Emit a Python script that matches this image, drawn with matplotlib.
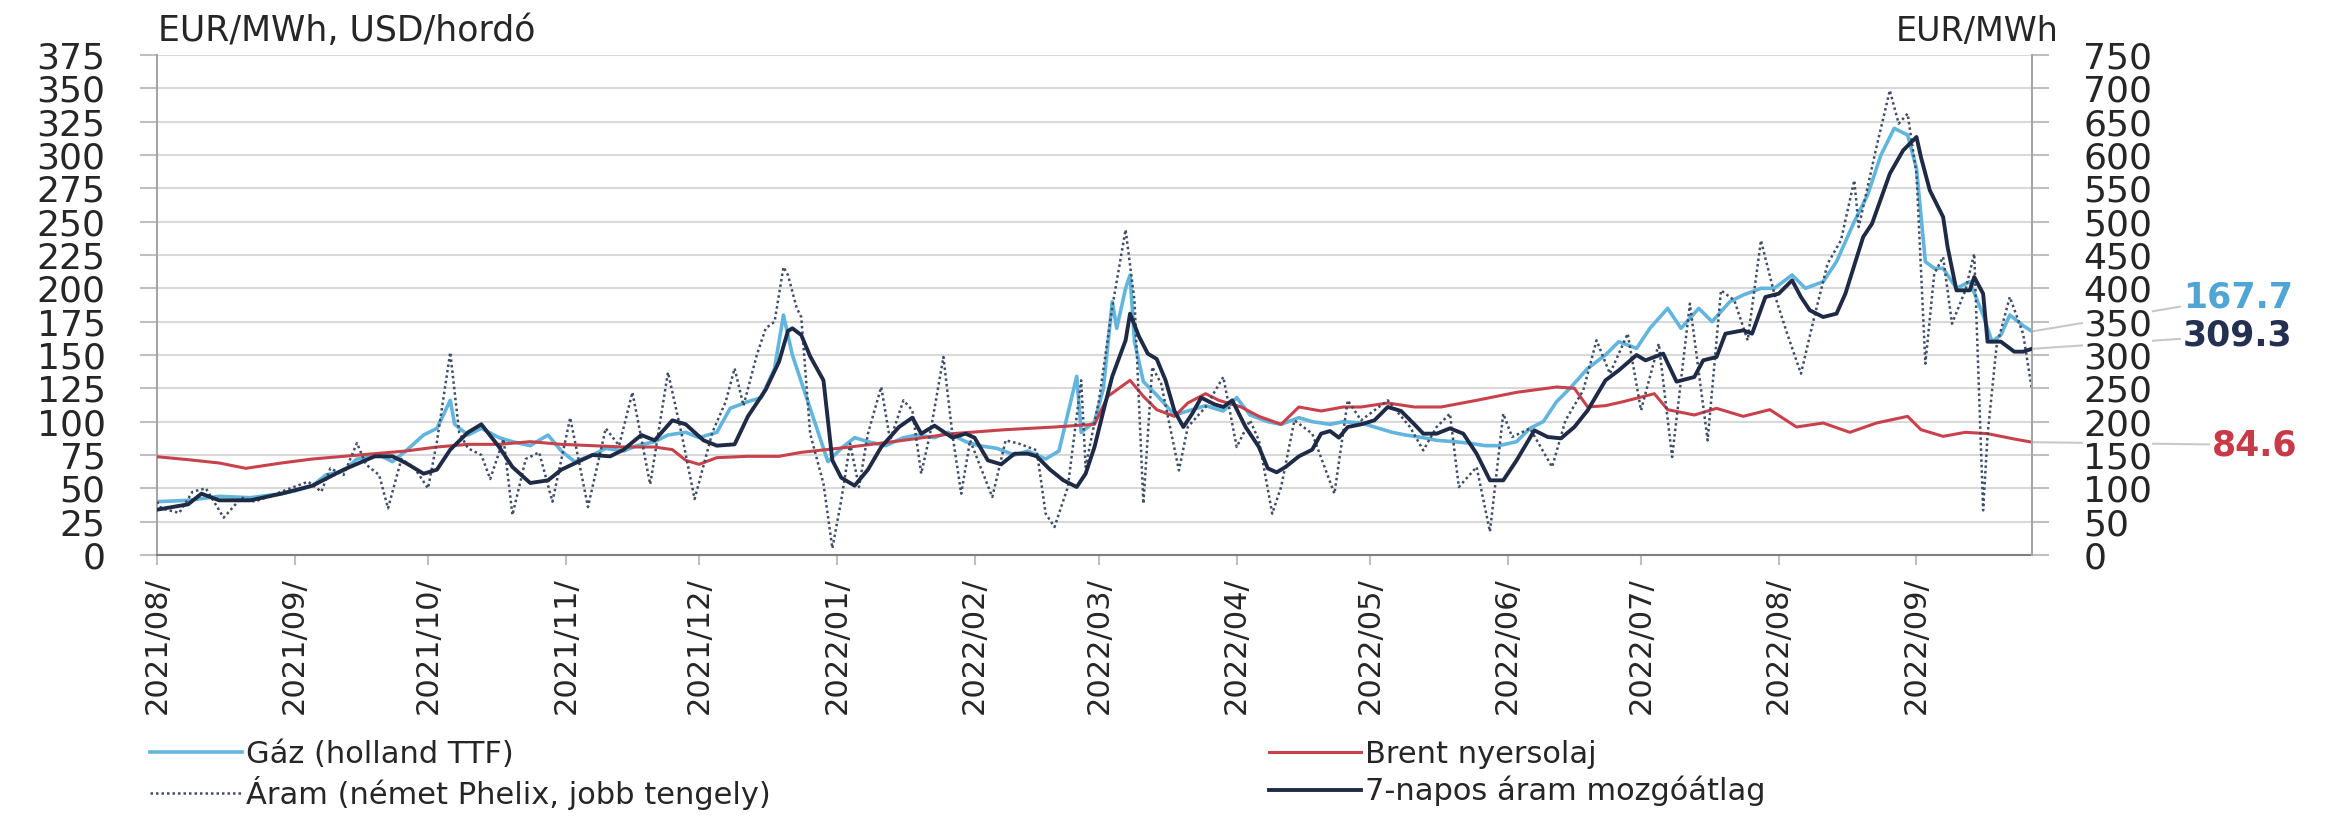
import numpy as np
import matplotlib.pyplot as plt
import matplotlib.dates as mdates
import pandas as pd

plt.rcParams['font.family'] = ['DejaVu Sans']

# napok 2021-08-01 ota
start = pd.Timestamp('2021-08-01')

# Gaz (holland TTF), EUR/MWh - bal tengely
gas_days = [0, 7, 14, 21, 28, 31, 35, 38, 42, 45, 50, 53, 56, 60, 63, 66, 67, 70, 73, 77, 80, 84, 88, 91, 94, 98,
            101, 105, 108, 112, 115, 119, 122, 126, 129, 133, 136, 139, 141, 143, 146, 149, 151, 154, 157, 160, 164,
            168, 171, 175, 178, 182, 185, 189, 193, 196, 200, 203, 207, 208, 211, 213, 215, 216, 218, 219, 220, 222,
            225, 229, 232, 236, 240, 243, 246, 250, 253, 257, 260, 264, 267, 271, 274, 278, 281, 285, 288, 292, 295,
            299, 302, 306, 309, 312, 315, 318, 322, 326, 329, 333, 336, 340, 343, 347, 350, 354, 357, 361, 364, 368,
            371, 375, 378, 382, 385, 388, 391, 394, 396, 398, 400, 402, 405, 408, 411, 413, 415, 417, 420, 422]
gas_vals = [40, 41, 44, 43, 46, 48, 52, 60, 63, 72, 75, 70, 78, 90, 95, 116, 98, 90, 95, 88, 85, 82, 90, 78, 70, 75,
            80, 78, 82, 85, 90, 92, 88, 92, 110, 115, 118, 140, 180, 150, 120, 90, 70, 80, 88, 85, 82,
            88, 90, 88, 92, 85, 82, 80, 75, 78, 72, 78, 134, 92, 100, 125, 190, 170, 200, 210, 160, 130,
            120, 105, 108, 112, 108, 118, 105, 100, 98, 103, 100, 98, 100, 99, 96, 92, 90, 88, 86, 85, 84,
            82, 82, 85, 95, 100, 115, 125, 140, 150, 160, 155, 170, 185, 170, 185, 175, 190, 195, 200, 200, 210,
            200, 205, 220, 250, 270, 300, 320, 315, 290, 220, 215, 215, 200, 205, 180, 160, 165, 180, 172, 167.7]

# Brent nyersolaj, USD/hordo - bal tengely
brent_days = [0, 7, 14, 20, 28, 35, 42, 49, 56, 63, 70, 77, 84, 91, 98, 105, 112, 116, 119, 122, 126, 133, 140, 145,
              156, 168, 179, 191, 202, 211, 214, 219, 222, 225, 229, 232, 236, 239, 244, 248, 253, 257, 262, 267,
              271, 277, 283, 289, 297, 306, 315, 319, 322, 326, 330, 337, 340, 346, 351, 357, 363, 369, 375, 381,
              387, 394, 397, 402, 407, 412, 418, 422]
brent_vals = [73.7, 71.5, 69, 65, 69, 72, 74, 76, 78, 81, 83, 83, 85, 83, 82, 81, 81, 79, 71, 68, 73, 74, 74, 77,
              81, 86, 91, 94, 96, 98, 119, 131, 119, 109, 104, 114, 121, 116, 111, 104, 98, 111, 108, 111,
              111, 114, 111, 111, 116, 122, 126, 125, 111, 112, 115, 121, 109, 105, 110, 104, 109, 96, 99, 92,
              99, 104, 94, 89, 92, 91, 87, 84.6]

# Aram (nemet Phelix), EUR/MWh - jobb tengely
power_days = [0, 1, 5, 8, 11, 15, 19, 22, 26, 30, 34, 37, 39, 42, 45, 47, 50, 52, 55, 58, 61, 63, 66, 68, 70, 73,
              75, 78, 80, 83, 86, 89, 93, 97, 101, 104, 107, 111, 115, 118, 121, 125, 128, 130, 132, 135, 137, 139,
              141, 142, 144, 145, 147, 150, 152, 154, 156, 158, 160, 163, 165, 168, 170, 172, 174, 177, 179, 181,
              183, 188, 191, 194, 198, 200, 202, 205, 208, 209, 212, 215, 218, 220, 222, 224, 226, 230, 232, 236,
              240, 243, 246, 248, 251, 253, 256, 260, 265, 268, 271, 277, 282, 285, 288, 291, 293, 297, 300, 303,
              305, 309, 314, 317, 321, 324, 327, 331, 334, 338, 341, 345, 349, 352, 355, 358, 361, 364, 367, 370,
              373, 376, 379, 382, 383, 387, 390, 392, 394, 396, 398, 400, 402, 404, 407, 409, 411, 412, 414, 417,
              420, 422]
power_vals = [80, 70, 63, 95, 100, 56, 86, 80, 90, 100, 110, 95, 130, 120, 168, 136, 120, 70, 144, 130, 100, 170,
              304, 184, 160, 150, 114, 174, 60, 144, 154, 80, 206, 72, 190, 164, 244, 106, 274, 184, 84, 184, 230,
              280, 224, 300, 340, 350, 432, 420, 370, 357, 182, 107, 10, 82, 167, 102, 182, 252, 172, 232, 217,
              122, 182, 297, 182, 92, 172, 87, 172, 167, 157, 62, 42, 102, 262, 132, 232, 372, 488, 382, 77, 282,
              257, 127, 192, 222, 267, 162, 202, 172, 62, 102, 202, 182, 92, 232, 202, 232, 192, 157, 192, 212,
              102, 132, 35, 212, 177, 190, 132, 202, 247, 322, 272, 332, 217, 317, 147, 377, 172, 397, 382, 322,
              472, 392, 330, 272, 357, 437, 472, 562, 492, 612, 697, 647, 662, 572, 287, 422, 447, 347, 397, 452,
              67, 180, 312, 387, 332, 247]

# 7-napos aram mozgoatlag, EUR/MWh - jobb tengely
ma_days = [0, 7, 10, 14, 21, 28, 35, 42, 49, 53, 56, 60, 63, 66, 70, 73, 77, 80, 84, 88, 91, 98, 102, 105, 109, 112,
           116, 119, 123, 126, 130, 133, 137, 140, 142, 143, 145, 147, 150, 152, 154, 157, 160, 163, 167, 170, 172,
           175, 179, 182, 184, 187, 190, 193, 196, 198, 201, 204, 207, 209, 211, 213, 215, 218, 219, 221, 223, 225,
           227, 229, 231, 233, 235, 238, 240, 242, 245, 248, 250, 252, 254, 257, 260, 262, 264, 266, 268, 271, 274,
           277, 280, 283, 285, 288, 291, 294, 297, 300, 303, 306, 310, 313, 316, 319, 322, 326, 329, 333, 335, 339,
           342, 346, 348, 351, 353, 357, 359, 362, 365, 368, 370, 372, 375, 378, 380, 384, 386, 390, 393, 396, 397,
           399, 402, 403, 405, 408, 409, 411, 412, 415, 418, 420, 422]
ma_vals = [68, 76, 92, 82, 82, 92, 104, 128, 148, 148, 138, 122, 128, 158, 184, 196, 162, 132, 108, 112, 128, 150,
           148, 158, 180, 172, 202, 196, 172, 164, 166, 208, 248, 290, 336, 340, 330, 298, 262, 142, 116, 104, 128,
           162, 192, 206, 182, 194, 176, 182, 176, 142, 136, 152, 152, 148, 128, 112, 102, 122, 162, 216, 268, 322,
           362, 328, 302, 294, 262, 216, 192, 212, 236, 226, 222, 232, 192, 162, 130, 124, 132, 148, 158, 182, 186,
           176, 192, 196, 202, 222, 216, 196, 182, 182, 190, 182, 152, 112, 112, 142, 187, 177, 175, 192, 217, 262,
           277, 300, 292, 302, 260, 267, 292, 297, 332, 337, 332, 387, 392, 412, 387, 367, 357, 362, 392, 477, 497,
           572, 607, 627, 597, 547, 507, 462, 397, 397, 417, 392, 320, 320, 305, 305, 309.3]


def to_dates(days):
    return start + pd.to_timedelta(days, unit='D')


fig = plt.figure(figsize=(23.43, 8.19), dpi=100)
ax = fig.add_axes([157 / 2343, 1 - 555 / 819, 1875 / 2343, 500 / 819])
ax2 = ax.twinx()

l_gas, = ax.plot(to_dates(gas_days), gas_vals, color='#62B5DC', lw=2.6, zorder=2)
l_brent, = ax.plot(to_dates(brent_days), brent_vals, color='#C8414B', lw=2.2, zorder=3)
l_power, = ax2.plot(to_dates(power_days), power_vals, color='#3E4E66', lw=1.8, ls=(0, (1, 1.2)), zorder=2)
l_ma, = ax2.plot(to_dates(ma_days), ma_vals, color='#1F2B46', lw=2.8, zorder=3)

x_end = mdates.date2num(to_dates([gas_days[-1]])[0])
ax.set_xlim(mdates.date2num(start), x_end)
ax.set_ylim(0, 375)
ax.set_yticks(np.arange(0, 376, 25))
ax2.set_ylim(0, 750)
ax2.set_yticks(np.arange(0, 751, 50))

ax.xaxis.set_major_locator(mdates.MonthLocator())
ax.xaxis.set_major_formatter(mdates.DateFormatter('%Y/%m/'))
for t in ax.get_xticklabels():
    t.set_rotation(90)

ax.yaxis.grid(True, color='#D9D9D9', lw=1.5)
ax.set_axisbelow(True)

ax.tick_params(axis='y', length=12, width=1.5, color='#BFBFBF', pad=25, labelsize=26, labelcolor='#262626')
ax2.tick_params(axis='y', length=12, width=1.5, color='#BFBFBF', pad=25, labelsize=26, labelcolor='#262626')
ax.tick_params(axis='x', length=7, width=1.5, color='#BFBFBF', pad=9, labelsize=22, labelcolor='#262626')

for s in ['top']:
    ax.spines[s].set_visible(False)
    ax2.spines[s].set_visible(False)
ax2.spines['left'].set_visible(False)
ax2.spines['bottom'].set_visible(False)
ax.spines['left'].set_color('#A6A6A6')
ax.spines['left'].set_linewidth(1.5)
ax.spines['right'].set_visible(False)
ax2.spines['right'].set_color('#A6A6A6')
ax2.spines['right'].set_linewidth(1.5)
ax.spines['bottom'].set_color('#7F7F7F')
ax.spines['bottom'].set_linewidth(1.5)

for t in ax2.get_yticklabels():
    t.set_bbox(dict(facecolor='white', edgecolor='none', pad=0))

# tengelyfeliratok
fig.text(158 / 2343, 1 - 31 / 819, 'EUR/MWh, USD/hordó', ha='left', va='center', fontsize=25, color='#262626')
fig.text(2059 / 2343, 1 - 32 / 819, 'EUR/MWh', ha='right', va='center', fontsize=24, color='#262626')

# utolso ertekek
lead = dict(arrowstyle='-', color='#C8C8C8', lw=1.5, shrinkA=0, shrinkB=0)
ax.annotate('%.1f' % gas_vals[-1], xy=(x_end, gas_vals[-1]), xytext=(1.0805, 0.516),
            textcoords='axes fraction', ha='left', va='center', fontsize=25, fontweight='bold',
            color='#4FA6D4', arrowprops=lead, annotation_clip=False, zorder=1)
ax.annotate('%.1f' % ma_vals[-1], xy=(x_end, ma_vals[-1]), xycoords=ax2.transData, xytext=(1.0805, 0.44),
            textcoords='axes fraction', ha='left', va='center', fontsize=25, fontweight='bold',
            color='#233050', arrowprops=lead, annotation_clip=False, zorder=1)
ax.annotate('%.1f' % brent_vals[-1], xy=(x_end, brent_vals[-1]), xytext=(1.096, 0.22),
            textcoords='axes fraction', ha='left', va='center', fontsize=25, fontweight='bold',
            color='#C83A47', arrowprops=lead, annotation_clip=False, zorder=1)

fig.legend([l_gas, l_power, l_brent, l_ma],
           ['Gáz (holland TTF)', 'Áram (német Phelix, jobb tengely)', 'Brent nyersolaj', '7-napos áram mozgóátlag'],
           ncol=2, loc='upper left', bbox_to_anchor=(150 / 2343, 1 - 740 / 819), frameon=False, fontsize=22,
           handlelength=3.0, handletextpad=0.15, columnspacing=16.3, labelspacing=0.22, borderaxespad=0,
           borderpad=0, labelcolor='#262626')

fig.savefig('out.png', dpi=100, facecolor='white')
